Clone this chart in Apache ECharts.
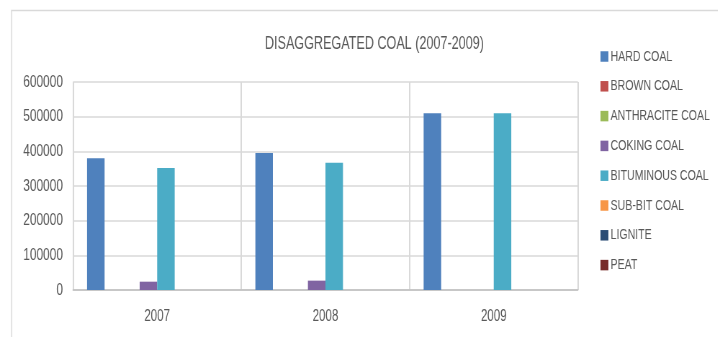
<!DOCTYPE html>
<html>
<head>
<meta charset="utf-8">
<script src="https://cdn.jsdelivr.net/npm/echarts@6/dist/echarts.min.js"></script>
<style>
  html, body { margin: 0; padding: 0; background: #fff; overflow: hidden; }
  #wrap { width: 718px; height: 337px; overflow: hidden; position: relative; }
  /* the chart is laid out wide and squeezed horizontally for a condensed look */
  #chart { width: 997px; height: 337px; transform: scaleX(0.72); transform-origin: 0 0; }
</style>
</head>
<body>
<div id="wrap"><div id="chart"></div></div>
<script>
// Years on the category axis
const years = ['2007', '2008', '2009'];

// Coal production by type (tonnes)
const hardCoal       = [380000, 395000, 510000];
const brownCoal      = [0, 0, 0];
const anthraciteCoal = [0, 0, 0];
const cokingCoal     = [24000, 27000, 0];
const bituminousCoal = [352000, 367000, 510000];
const subBitCoal     = [0, 0, 0];
const lignite        = [0, 0, 0];
const peat           = [0, 0, 0];

const seriesNames = ['HARD COAL', 'BROWN COAL', 'ANTHRACITE COAL', 'COKING COAL',
  'BITUMINOUS COAL', 'SUB-BIT COAL', 'LIGNITE', 'PEAT'];
const seriesData = [hardCoal, brownCoal, anthraciteCoal, cokingCoal,
  bituminousCoal, subBitCoal, lignite, peat];
const seriesColors = ['#4F81BD', '#C0504D', '#9BBB59', '#8064A2',
  '#4BACC6', '#F79646', '#2C4D75', '#772C2A'];

// y-axis ticks
const yMin = 0, yMax = 600000, yStep = 100000;

const FONT = '"Liberation Sans", Arial, sans-serif';
const TEXT = '#595959';

const chart = echarts.init(document.getElementById('chart'), null, { renderer: 'canvas' });

chart.setOption({
  animation: false,
  backgroundColor: '#fff',
  textStyle: { fontFamily: FONT, color: TEXT },
  title: {
    text: 'DISAGGREGATED COAL (2007-2009)',
    left: 515, top: 30, textAlign: 'center',
    textStyle: { fontFamily: FONT, fontSize: 17.5, fontWeight: 'normal', color: TEXT }
  },
  graphic: [{
    type: 'rect', silent: true, z: -1,
    shape: { x: 16, y: 10.5, width: 1000, height: 340 },
    style: { fill: 'none', stroke: '#d9d9d9', lineWidth: 1.4 }
  }],
  legend: {
    orient: 'vertical', left: 829, top: 44,
    itemWidth: 11, itemHeight: 10.5, itemGap: 14.8,
    icon: 'rect',
    textStyle: { fontFamily: FONT, fontSize: 14.7, lineHeight: 15, color: TEXT, padding: [0, 0, 0, -2] },
    data: seriesNames
  },
  grid: { left: 101.4, right: 194.4, top: 82, bottom: 47, containLabel: false },
  xAxis: {
    type: 'category', data: years,
    axisLine: { show: true, lineStyle: { color: '#bfbfbf', width: 1.5 } },
    axisTick: { show: false },
    axisLabel: { fontFamily: FONT, fontSize: 16, color: TEXT, margin: 18.5 },
    splitLine: { show: true, lineStyle: { color: '#d9d9d9', width: 2 } }
  },
  yAxis: {
    type: 'value', min: yMin, max: yMax, interval: yStep,
    axisLine: { show: false }, axisTick: { show: false },
    axisLabel: {
      fontFamily: FONT, fontSize: 16.5, color: TEXT, margin: 14,
      formatter: v => String(v)
    },
    splitLine: { lineStyle: { color: '#d9d9d9', width: 1.5 } }
  },
  series: seriesNames.map((name, i) => ({
    name, type: 'bar', data: seriesData[i],
    barGap: '0%', barCategoryGap: '16.7%',
    itemStyle: { color: seriesColors[i] }
  }))
});
</script>
</body>
</html>
